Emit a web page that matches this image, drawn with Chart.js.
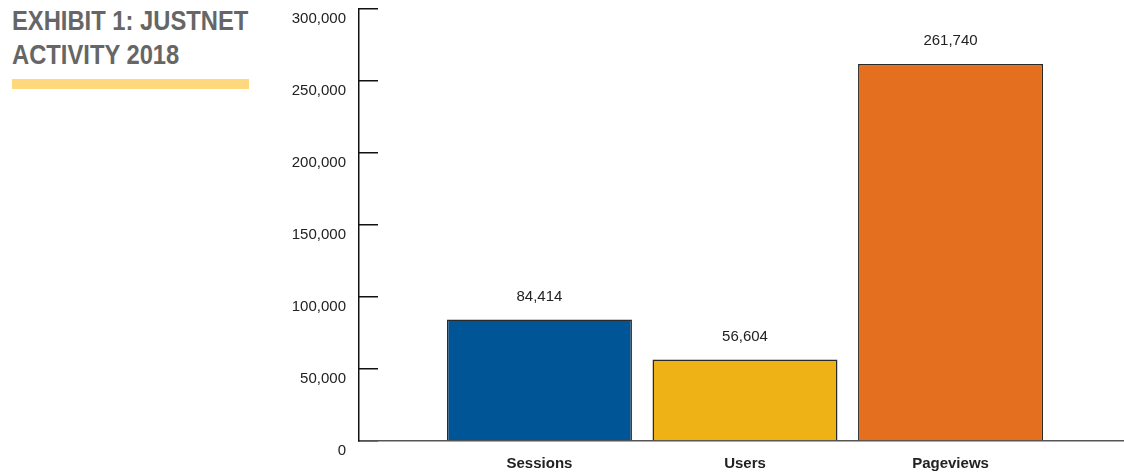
<!DOCTYPE html>
<html>
<head>
<meta charset="utf-8">
<script src="https://cdn.jsdelivr.net/npm/chart.js@4/dist/chart.umd.min.js"></script>
<style>
    html, body { margin: 0; padding: 0; background: #fff; }
    #wrap { position: relative; width: 1124px; height: 472px; }
    #title {
        position: absolute; left: 12px; top: 4px;
        font: bold 27px "Liberation Sans", Arial, sans-serif;
        line-height: 34px; color: #666;
        transform: scaleX(0.88); transform-origin: left top;
        white-space: nowrap;
    }
    #rule { position: absolute; left: 12px; top: 79px; width: 237px; height: 10px; background: #fdd87c; }
    #chart { position: absolute; left: 0; top: 0; }
</style>
</head>
<body>
<div id="wrap">
    <div id="title">EXHIBIT 1: JUSTNET<br>ACTIVITY 2018</div>
    <div id="rule"></div>
    <canvas id="chart" width="1124" height="472"></canvas>
</div>
<script>
// Exhibit 1: JustNet activity 2018

const categories = ['Sessions', 'Users', 'Pageviews'];
const activity = [84414, 56604, 261740];
const barColors = ['#005596', '#efb216', '#e36f1f'];
const yTicks = [0, 50000, 100000, 150000, 200000, 250000, 300000];

const FONT = '"Liberation Sans", Arial, sans-serif';

// --- Value labels above bars ---

const valueLabels = {
    id: 'valueLabels',
    afterDatasetsDraw(chart) {
        const ctx = chart.ctx;
        const meta = chart.getDatasetMeta(0);
        ctx.save();
        ctx.font = '15px ' + FONT;
        ctx.fillStyle = '#222';
        ctx.textAlign = 'center';
        ctx.textBaseline = 'middle';
        meta.data.forEach((bar, i) => {
            ctx.fillText(activity[i].toLocaleString('en-US'), bar.x, bar.y - 23);
        });
        ctx.restore();
    }
};

// --- Chart ---

new Chart(document.getElementById('chart'), {
    type: 'bar',
    data: {
        datasets: [{
            data: activity.map((v, i) => ({ x: i, y: v })),
            backgroundColor: barColors,
            borderColor: '#2a2a2a',
            borderWidth: 1.5,
            categoryPercentage: 0.9,
            barPercentage: 1,
        }],
    },
    options: {
        responsive: false,
        animation: false,
        layout: { padding: { top: 9, right: 0, left: 0, bottom: 0 } },
        plugins: {
            legend: { display: false },
            tooltip: { enabled: false },
        },
        scales: {
            x: {
                type: 'linear',
                offset: false,
                min: -0.878,
                max: 2.844,
                afterBuildTicks: scale => {
                    scale.ticks = categories.map((c, i) => ({ value: i }));
                },
                afterFit: scale => {
                    scale.height = 31;
                    scale.paddingLeft = 0;
                    scale.paddingRight = 0;
                },
                ticks: {
                    autoSkip: false,
                    maxRotation: 0,
                    padding: 14,
                    color: '#222',
                    font: { family: FONT, size: 15, weight: 'bold' },
                    callback: v => categories[v],
                },
                grid: { display: false, drawTicks: false, offset: false },
                border: { display: true, color: '#555', width: 1.5 },
            },
            y: {
                min: 0,
                max: 300000,
                afterBuildTicks: scale => {
                    scale.ticks = yTicks.map(v => ({ value: v }));
                },
                afterFit: scale => {
                    scale.width = 359;
                    scale.paddingTop = 0;
                    scale.paddingBottom = 0;
                },
                ticks: {
                    padding: 32,
                    labelOffset: 10,
                    color: '#222',
                    font: { family: FONT, size: 15 },
                    callback: v => v.toLocaleString('en-US'),
                },
                grid: {
                    drawOnChartArea: false,
                    tickLength: -19,
                    color: '#111',
                    lineWidth: 1.5,
                },
                border: { display: true, color: '#111', width: 1.5 },
            },
        },
    },
    plugins: [valueLabels],
});
</script>
</body>
</html>
